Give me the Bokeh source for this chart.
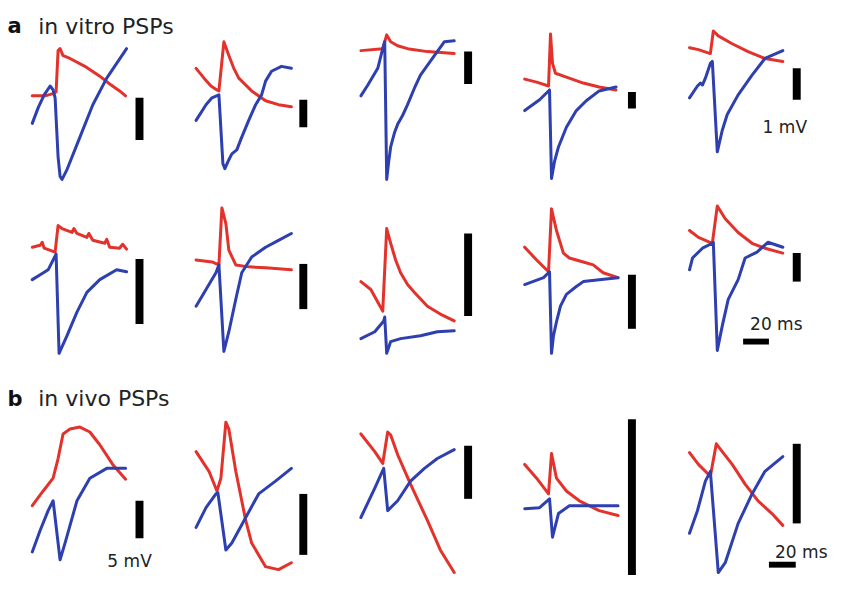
from bokeh.plotting import figure
from bokeh.models import Range1d
from bokeh.embed import file_html
from bokeh.resources import INLINE
from bokeh.core.properties import value

# ---- trace data: per panel, local time (t) and voltage (v, up positive) ----
# row a1 (in vitro)
p1_red_t = [0, 13, 20, 24, 26, 28, 31, 38, 53, 68, 78, 88, 94]
p1_red_v = [2, 2, 4, 6, 48, 50, 43, 40, 32, 22, 14, 7, 2]
p1_blue_t = [0, 6, 12, 18, 21, 23, 26, 28, 30, 35, 48, 61, 75, 95]
p1_blue_v = [-26, -10, 3, 12, 8, 0, -60, -80, -83, -73, -40, -7, 20, 50]

p2_red_t = [0, 8, 15, 21, 23, 28, 33, 38, 43, 56, 70, 83, 96]
p2_red_v = [30, 20, 12, 8, 7, 57, 43, 30, 20, 7, -3, -7, -9]
p2_blue_t = [0, 10, 16, 23, 27, 29, 33, 36, 41, 46, 53, 60, 66, 70, 76, 86, 96]
p2_blue_v = [-23, -7, 0, 3, -67, -72, -63, -57, -53, -40, -23, -7, 3, 17, 27, 32, 30]

p3_red_t = [0, 22, 26, 30, 37, 47, 67, 94]
p3_red_v = [48, 50, 64, 57, 53, 50, 47, 45]
p3_blue_t = [0, 7, 17, 22, 24, 26, 28, 30, 34, 37, 42, 47, 54, 60, 67, 74, 84, 94]
p3_blue_v = [2, 13, 30, 50, 57, -83, -65, -50, -35, -27, -18, -7, 10, 23, 33, 43, 57, 58]

p4_red_t = [0, 12, 24, 26, 28, 31, 42, 59, 75, 92]
p4_red_v = [19, 16, 12, 65, 35, 25, 21, 15, 11, 8]
p4_blue_t = [0, 15, 25, 27, 30, 34, 42, 52, 62, 75, 92]
p4_blue_v = [-13, -2, 8, -82, -65, -50, -30, -13, -3, 7, 11]

p5_red_t = [0, 9, 21, 24, 29, 43, 59, 76, 94]
p5_red_v = [51, 49, 45, 68, 63, 55, 47, 40, 37]
p5_blue_t = [0, 8, 11, 13, 16, 21, 23, 28, 33, 38, 49, 63, 76, 94]
p5_blue_v = [0, 12, 15, 13, 20, 35, 37, -55, -33, -17, 3, 23, 40, 48]

# row a2 (in vitro)
p6_red_t = [0, 8, 10, 12, 23, 26, 30, 40, 42, 45, 55, 57, 61, 73, 75, 78, 88, 91, 95]
p6_red_v = [38, 40, 43, 37, 33, 60, 57, 53, 57, 52, 48, 52, 45, 42, 46, 38, 37, 41, 36]
p6_blue_t = [0, 8, 16, 21, 24, 27, 35, 45, 55, 68, 85, 95]
p6_blue_v = [5, 10, 15, 25, 31, -70, -52, -28, -8, 5, 15, 13]

p7_red_t = [0, 16, 23, 26, 30, 33, 40, 53, 70, 96]
p7_red_v = [25, 23, 20, 78, 62, 35, 20, 18, 17, 15]
p7_blue_t = [0, 10, 20, 23, 28, 33, 40, 46, 56, 70, 83, 96]
p7_blue_v = [-22, -5, 12, 20, -68, -48, -15, 12, 28, 38, 45, 52]

p8_red_t = [0, 10, 22, 26, 30, 35, 40, 47, 54, 67, 80, 94]
p8_red_v = [3, -5, -27, 57, 42, 25, 12, 0, -8, -22, -30, -37]
p8_blue_t = [0, 14, 23, 24, 26, 30, 40, 60, 77, 94]
p8_blue_v = [-55, -48, -37, -33, -70, -58, -55, -52, -48, -47]

p9_red_t = [0, 12, 24, 27, 32, 39, 45, 59, 69, 79, 94]
p9_red_v = [38, 25, 13, 77, 55, 32, 27, 23, 20, 12, 7]
p9_blue_t = [0, 19, 25, 27, 29, 32, 36, 42, 52, 59, 75, 94]
p9_blue_v = [0, 7, 13, -70, -52, -38, -22, -10, -2, 3, 5, 7]

p10_red_t = [0, 9, 23, 28, 36, 49, 63, 76, 94]
p10_red_v = [55, 48, 42, 80, 67, 53, 42, 37, 32]
p10_blue_t = [0, 3, 13, 23, 24, 28, 33, 39, 49, 56, 68, 79, 94]
p10_blue_v = [15, 27, 37, 42, 43, -67, -42, -15, 5, 27, 33, 43, 38]

# row b (in vivo)
p11_red_t = [0, 11, 21, 26, 31, 38, 48, 58, 68, 81, 94]
p11_red_v = [5, 20, 33, 53, 78, 83, 85, 80, 67, 47, 32]
p11_blue_t = [0, 8, 16, 21, 28, 33, 45, 58, 75, 94]
p11_blue_v = [-42, -20, 0, 10, -50, -33, 10, 33, 43, 43]

p12_red_t = [0, 13, 21, 25, 30, 33, 40, 50, 56, 70, 83, 96]
p12_red_v = [60, 40, 20, 33, 90, 83, 40, -10, -33, -57, -60, -53]
p12_blue_t = [0, 10, 20, 22, 30, 36, 50, 63, 80, 96]
p12_blue_v = [-17, 3, 17, 18, -40, -33, -7, 17, 30, 43]

p13_red_t = [0, 14, 22, 27, 30, 37, 50, 67, 80, 94]
p13_red_v = [78, 60, 48, 80, 77, 57, 27, -10, -40, -63]
p13_blue_t = [0, 14, 23, 27, 37, 50, 64, 77, 94]
p13_blue_v = [-7, 23, 43, 0, 10, 30, 43, 53, 62]

p14_red_t = [0, 12, 24, 27, 32, 42, 55, 75, 94]
p14_red_v = [47, 33, 17, 58, 33, 20, 10, 0, -5]
p14_blue_t = [0, 15, 25, 28, 34, 45, 59, 75, 94]
p14_blue_v = [2, 3, 12, -27, -3, 5, 5, 5, 5]

p15_red_t = [0, 9, 21, 27, 33, 43, 56, 69, 83, 94]
p15_red_v = [59, 47, 35, 68, 60, 47, 27, 10, -3, -15]
p15_blue_t = [0, 8, 16, 21, 29, 36, 49, 63, 76, 94]
p15_blue_v = [-23, 0, 30, 40, -63, -53, -13, 17, 40, 55]

# vertical (voltage) scale bars per panel: top and bottom in local v
bar_top = [0, -2, 47, 6, 30, 26, 21, 52, 10, 32, 10, 17, 66, 93, 68]
bar_bot = [-43, -30, 14, -11, -2, -40, -25, -32, -45, 3, -28, -45, 12, -70, -13]
# 20 ms time bar lengths (row a, row b)
time_bar_len = [26, 27]

labels_scale = ["1 mV", "20 ms", "5 mV", "20 ms"]
section_titles = ["a", "in vitro PSPs", "b", "in vivo PSPs"]

panels = [
    (p1_red_t, p1_red_v, p1_blue_t, p1_blue_v),
    (p2_red_t, p2_red_v, p2_blue_t, p2_blue_v),
    (p3_red_t, p3_red_v, p3_blue_t, p3_blue_v),
    (p4_red_t, p4_red_v, p4_blue_t, p4_blue_v),
    (p5_red_t, p5_red_v, p5_blue_t, p5_blue_v),
    (p6_red_t, p6_red_v, p6_blue_t, p6_blue_v),
    (p7_red_t, p7_red_v, p7_blue_t, p7_blue_v),
    (p8_red_t, p8_red_v, p8_blue_t, p8_blue_v),
    (p9_red_t, p9_red_v, p9_blue_t, p9_blue_v),
    (p10_red_t, p10_red_v, p10_blue_t, p10_blue_v),
    (p11_red_t, p11_red_v, p11_blue_t, p11_blue_v),
    (p12_red_t, p12_red_v, p12_blue_t, p12_blue_v),
    (p13_red_t, p13_red_v, p13_blue_t, p13_blue_v),
    (p14_red_t, p14_red_v, p14_blue_t, p14_blue_v),
    (p15_red_t, p15_red_v, p15_blue_t, p15_blue_v),
]

RED = "#e3322b"
BLUE = "#2e3fb0"

# ---- layout ----
col_x = [32, 197, 363, 528, 694]
row_y = [-100, -290, -520]

p = figure(width=828, height=575, x_range=Range1d(0, 834), y_range=Range1d(-586, -1),
           output_backend="svg", toolbar_location=None,
           x_axis_location=None, y_axis_location=None, min_border=0)
p.grid.visible = False
p.outline_line_color = None
p.background_fill_color = "white"

for i, (rt, rv, bt, bv) in enumerate(panels):
    ox = col_x[i % 5]
    oy = row_y[i // 5]
    p.line([ox + t for t in rt], [oy + v for v in rv], line_color=RED, line_width=3,
           line_join="round", line_cap="round")
    p.line([ox + t for t in bt], [oy + v for v in bv], line_color=BLUE, line_width=3,
           line_join="round", line_cap="round")
    p.quad(left=ox + 104, right=ox + 112, top=oy + bar_top[i], bottom=oy + bar_bot[i],
           fill_color="black", line_color=None)

# time scale bars
p.quad(left=col_x[4] + 54, right=col_x[4] + 54 + time_bar_len[0],
       top=row_y[1] - 55, bottom=row_y[1] - 61, fill_color="black", line_color=None)
p.quad(left=col_x[4] + 80, right=col_x[4] + 80 + time_bar_len[1],
       top=row_y[2] - 52, bottom=row_y[2] - 58, fill_color="black", line_color=None)

FONT = value("DejaVu Sans")
# scale labels
p.text(x=[col_x[4] + 96], y=[row_y[0] - 30], text=[labels_scale[0]], text_font=FONT,
       text_font_size="17px", text_align="center", text_baseline="middle", text_color="#222222")
p.text(x=[col_x[4] + 61], y=[row_y[1] - 40], text=[labels_scale[1]], text_font=FONT,
       text_font_size="17px", text_align="left", text_baseline="middle", text_color="#222222")
p.text(x=[col_x[0] + 98], y=[row_y[2] - 51], text=[labels_scale[2]], text_font=FONT,
       text_font_size="17px", text_align="center", text_baseline="middle", text_color="#222222")
p.text(x=[833], y=[row_y[2] - 42], text=[labels_scale[3]], text_font=FONT,
       text_font_size="17px", text_align="right", text_baseline="middle", text_color="#222222")

# section titles
p.text(x=[7], y=[-27], text=[section_titles[0]], text_font=FONT, text_font_size="21px",
       text_font_style="bold", text_baseline="alphabetic", text_color="#111111")
p.text(x=[38], y=[-27], text=[section_titles[1]], text_font=FONT, text_font_size="22px",
       text_baseline="alphabetic", text_color="#222222")
p.text(x=[7], y=[-406], text=[section_titles[2]], text_font=FONT, text_font_size="21px",
       text_font_style="bold", text_baseline="alphabetic", text_color="#111111")
p.text(x=[38], y=[-406], text=[section_titles[3]], text_font=FONT, text_font_size="22px",
       text_baseline="alphabetic", text_color="#222222")

open("out.html", "w").write(file_html(p, INLINE))
